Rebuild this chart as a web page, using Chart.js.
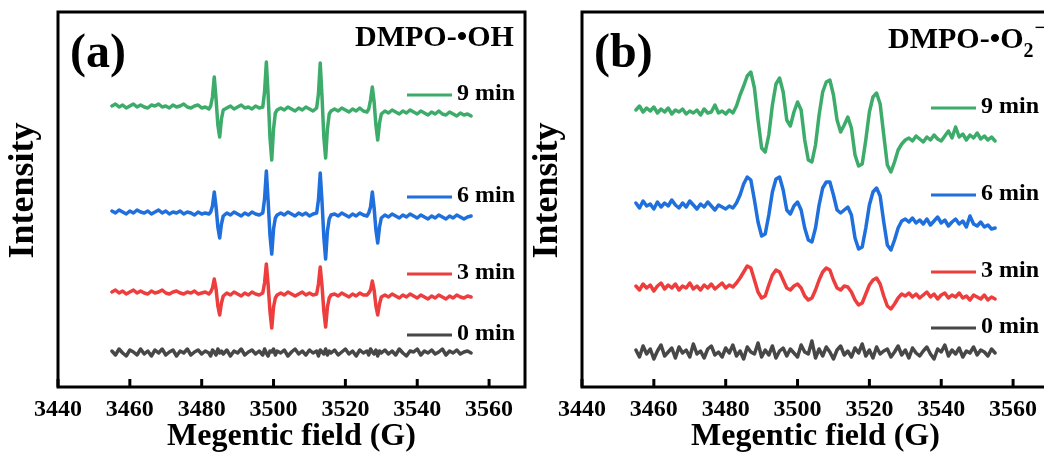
<!DOCTYPE html>
<html>
<head>
<meta charset="utf-8">
<script src="https://cdn.jsdelivr.net/npm/chart.js@4.4.0/dist/chart.umd.min.js"></script>
<style>
  html, body { margin: 0; padding: 0; background: #fff; overflow: hidden; }
  #wrap { position: relative; width: 1044px; height: 457px; overflow: hidden; }
  .panel { position: absolute; top: 0; width: 530px; height: 457px; }
  #panelA { left: 0; }
  #panelB { left: 524px; }
</style>
</head>
<body>
<div id="wrap">
  <div class="panel" id="panelA"><canvas id="chartA"></canvas></div>
  <div class="panel" id="panelB"><canvas id="chartB"></canvas></div>
</div>
<script>
// magnetic field (G), panel (a) has extra points round the four DMPO-OH lines
var fieldA = [
  3455,3456,3457,3458,3459,3460,3461,3462,3463,3464,3465,3466,3467,3468,3469,3470,3471,3472,3473,3474,3475,3476,3477,3478,3479,3480,3481,3482,
  3482.5,3483,3483.5,3484,3484.5,3485,3485.5,3486,
  3487,3488,3489,3490,3491,3492,3493,3494,3495,3496,3497,
  3497.5,3498,3498.5,3499,3499.5,3500,3500.5,3501,
  3502,3503,3504,3505,3506,3507,3508,3509,3510,3511,3512,
  3512.5,3513,3513.5,3514,3514.5,3515,3515.5,3516,
  3517,3518,3519,3520,3521,3522,3523,3524,3525,3526,
  3526.5,3527,3527.5,3528,3528.5,3529,3529.5,3530,
  3531,3532,3533,3534,3535,3536,3537,3538,3539,3540,3541,3542,3543,3544,3545,3546,3547,3548,3549,3550,3551,3552,3553,3554,3555
];

// intensity (a.u., stacked) - DMPO-.OH
var oh9 = [
  281,283,280,282,279,281,283,280,282,280,279,282,281,283,280,281,279,282,280,281,283,280,279,281,282,279,280,278,
  281,290,310,288,262,250,268,277,
  279,281,278,280,282,279,280,278,281,279,280,
  295,325,292,250,227,258,274,277,
  279,277,280,278,276,279,277,280,278,276,279,
  293,324,290,250,229,258,273,276,
  278,276,279,277,275,278,276,279,276,275,
  278,287,300,285,262,247,264,273,
  276,274,277,275,273,276,274,277,275,273,276,274,272,275,273,276,273,272,275,273,271,274,272,273,271
];
var oh6 = [
  176,174,177,175,173,176,174,177,175,174,176,173,175,177,174,176,173,175,174,176,173,175,174,172,175,173,174,173,
  175,181,195,180,160,149,163,171,
  174,172,175,173,171,174,172,175,173,172,174,
  188,216,186,152,133,158,169,172,
  174,172,175,173,171,174,172,174,171,173,174,
  187,214,185,150,128,156,168,172,
  173,171,174,172,170,173,171,174,172,171,
  174,180,195,179,157,144,160,169,
  172,170,173,171,169,172,170,173,171,169,172,170,168,171,169,172,170,168,171,169,172,170,168,170,171
];
var oh3 = [
  95,97,94,96,93,95,97,94,96,94,93,96,94,95,97,94,93,95,96,94,93,95,94,96,93,94,95,93,
  95,99,108,98,81,72,84,91,
  94,92,95,93,91,94,92,95,93,92,94,
  104,123,102,76,59,80,89,92,
  94,92,95,93,91,93,95,92,94,92,93,
  103,120,101,76,60,80,89,92,
  93,91,94,92,90,93,91,94,92,92,
  94,97,106,97,81,72,83,90,
  92,90,93,91,89,92,90,93,91,89,92,90,88,91,89,92,90,88,91,89,92,90,89,91,90
];
var oh0 = [
  36,32,38,34,31,37,35,32,38,33,36,31,37,34,38,32,35,37,31,36,34,38,32,35,37,33,36,34,
  31,37,35,32,38,34,36,33,
  37,31,36,34,38,32,35,37,33,36,32,
  38,34,31,36,35,38,32,36,
  34,37,31,35,38,33,36,32,37,34,36,
  31,37,35,33,38,32,36,34,
  37,32,35,38,33,36,31,37,34,36,
  32,38,35,33,37,31,36,34,
  37,33,36,32,38,34,31,36,35,38,32,36,34,37,33,35,38,32,36,34,37,33,35,36,34
];

// magnetic field (G), panel (b)
var fieldB = [
  3455,3456,3457,3458,3459,3460,3461,3462,3463,3464,
  3465,3466,3467,3468,3469,3470,3471,3472,3473,3474,
  3475,3476,3477,3478,3479,3480,3481,3482,3483,3484,
  3485,3486,3487,3488,3489,3490,3491,3492,3493,3494,
  3495,3496,3497,3498,3499,3500,3501,3502,3503,3504,
  3505,3506,3507,3508,3509,3510,3511,3512,3513,3514,
  3515,3516,3517,3518,3519,3520,3521,3522,3523,3524,
  3525,3526,3527,3528,3529,3530,3531,3532,3533,3534,
  3535,3536,3537,3538,3539,3540,3541,3542,3543,3544,
  3545,3546,3547,3548,3549,3550,3551,3552,3553,3554,
  3555
];

// intensity (a.u., stacked) - DMPO-.O2-
var o29 = [
  277,281,275,279,276,280,274,278,275,279,
  273,277,275,278,273,276,274,277,272,278,
  274,275,282,274,276,273,277,274,281,292,
  301,311,315,299,267,239,235,252,282,303,
  309,295,267,261,275,285,277,247,227,225,
  242,272,295,305,307,292,267,255,262,270,
  259,232,221,223,247,275,290,294,283,252,
  222,215,225,237,243,247,249,246,251,248,
  245,250,247,252,248,246,251,256,249,260,
  250,253,247,252,249,254,248,251,247,250,
  246
];
var o26 = [
  184,179,186,181,183,178,185,180,184,181,
  187,182,179,184,180,186,182,178,183,180,
  185,181,177,182,180,178,181,179,184,192,
  203,210,207,187,165,151,153,172,195,208,
  210,197,177,173,181,185,177,159,147,145,
  159,182,199,205,205,192,177,174,177,180,
  172,149,138,140,159,182,195,199,191,165,
  142,137,147,159,166,168,165,169,164,167,
  163,168,162,166,170,164,167,161,165,168,
  163,166,160,171,163,161,165,160,162,158,
  159
];
var o23 = [
  101,97,103,99,102,96,101,104,98,102,
  99,103,97,101,99,104,98,101,97,102,
  99,103,98,101,104,99,102,100,104,109,
  115,121,119,107,95,89,91,102,112,117,
  115,107,99,97,101,103,99,91,87,89,
  97,107,115,119,117,107,99,97,101,100,
  95,87,82,84,93,102,107,109,103,91,
  81,78,83,89,93,91,94,90,93,89,
  92,95,90,93,88,92,94,89,92,90,
  94,89,91,87,92,90,88,92,87,90,
  88
];
var o20 = [
  37,30,41,33,38,28,36,42,31,35,
  39,29,40,34,37,30,43,33,36,29,
  38,41,32,35,30,39,34,42,31,36,
  28,40,35,33,44,30,37,32,41,29,
  36,39,31,38,34,30,42,35,33,46,
  29,38,31,40,35,28,37,41,32,36,
  30,39,34,43,31,37,29,40,33,36,
  38,30,35,41,32,37,29,39,34,31,
  36,40,33,28,38,35,42,31,37,33,
  39,30,36,34,40,32,37,35,31,38,
  34
];

var timeLabels = ['0 min', '3 min', '6 min', '9 min'];
var colors = ['#474747', '#ee3d3d', '#1f6fdc', '#3dac6b'];
var xTicks = [3440, 3460, 3480, 3500, 3520, 3540, 3560];

var FONT = "'Liberation Serif', 'Times New Roman', serif";

// box, inward ticks, panel letter, spin adduct name and the key
var framePlugin = {
  id: 'frame',
  afterDatasetsDraw: function (chart, args, opts) {
    var ctx = chart.ctx;
    var a = chart.chartArea;
    var x = chart.scales.x;
    ctx.save();
    ctx.strokeStyle = '#000';
    ctx.lineWidth = 3;
    ctx.strokeRect(a.left, a.top, a.right - a.left, a.bottom - a.top);
    xTicks.forEach(function (v) {
      var px = x.getPixelForValue(v);
      ctx.beginPath();
      ctx.moveTo(px, a.bottom);
      ctx.lineTo(px, a.bottom - 8);
      ctx.stroke();
    });

    ctx.fillStyle = '#000';
    ctx.textAlign = 'left';
    ctx.textBaseline = 'alphabetic';
    ctx.font = 'bold 48px ' + FONT;
    ctx.fillText(opts.letter, a.left + 12, a.top + 55);

    ctx.font = 'bold 30px ' + FONT;
    var tx = a.left + opts.nameX;
    var ty = a.top + opts.nameY;
    ctx.fillText(opts.name, tx, ty);
    if (opts.sub) {
      var w = ctx.measureText(opts.name).width;
      ctx.font = 'bold 20px ' + FONT;
      ctx.fillText(opts.sub, tx + w, ty + 9);
      var w2 = ctx.measureText(opts.sub).width;
      ctx.fillText('\u2212', tx + w + w2 + 1, ty - 14);
    }

    ctx.font = 'bold 24px ' + FONT;
    ctx.textBaseline = 'middle';
    for (var i = 0; i < timeLabels.length; i++) {
      var ly = a.top + opts.keyY[i];
      ctx.strokeStyle = colors[i];
      ctx.lineWidth = 3;
      ctx.beginPath();
      ctx.moveTo(a.left + 349, ly);
      ctx.lineTo(a.left + 394, ly);
      ctx.stroke();
      ctx.fillText(timeLabels[i], a.left + 399, ly - 1);
    }
    ctx.restore();
  }
};

function buildChart(id, field, traces, frame) {
  return new Chart(document.getElementById(id), {
    type: 'line',
    data: {
      datasets: traces.map(function (t, i) {
        return {
          label: timeLabels[i],
          data: field.map(function (f, j) { return { x: f, y: t[j] }; }),
          borderColor: colors[i],
          borderWidth: 3.5,
          borderJoinStyle: 'round',
          borderCapStyle: 'round',
          pointRadius: 0,
          tension: 0,
          fill: false
        };
      })
    },
    options: {
      responsive: true,
      maintainAspectRatio: false,
      animation: false,
      layout: { padding: { top: 12, right: 5, left: 0, bottom: 0 } },
      plugins: {
        legend: { display: false },
        tooltip: { enabled: false },
        frame: frame
      },
      scales: {
        x: {
          type: 'linear',
          min: 3440,
          max: 3570,
          grid: { display: false, drawTicks: false },
          border: { display: false },
          afterBuildTicks: function (s) {
            s.ticks = xTicks.map(function (v) { return { value: v }; });
          },
          ticks: {
            padding: 8,
            color: '#000',
            maxRotation: 0,
            autoSkip: false,
            font: { family: FONT, size: 24, weight: 'bold' },
            callback: function (v) { return String(v); }
          },
          title: {
            display: true,
            text: 'Megentic field (G)',
            color: '#000',
            font: { family: FONT, size: 32, weight: 'bold' },
            padding: { top: 0, bottom: 1 }
          },
          afterFit: function (s) { s.height = 70; }
        },
        y: {
          min: 0,
          max: 375,
          grid: { display: false, drawTicks: false },
          border: { display: false },
          ticks: { display: false },
          title: {
            display: true,
            text: '\u00a0\u00a0Intensity',
            color: '#000',
            font: { family: FONT, size: 36, weight: 'bold' },
            padding: { top: 2, bottom: 0 }
          },
          afterFit: function (s) { s.width = 58; }
        }
      }
    },
    plugins: [framePlugin]
  });
}

buildChart('chartA', fieldA, [oh0, oh3, oh6, oh9], {
  letter: '(a)', name: 'DMPO-\u2022OH', nameX: 297, nameY: 34,
  keyY: [323, 262, 185, 83]
});
buildChart('chartB', fieldB, [o20, o23, o26, o29], {
  letter: '(b)', name: 'DMPO-\u2022O', sub: '2', nameX: 306, nameY: 36,
  keyY: [316, 260, 183, 96]
});
</script>
</body>
</html>
